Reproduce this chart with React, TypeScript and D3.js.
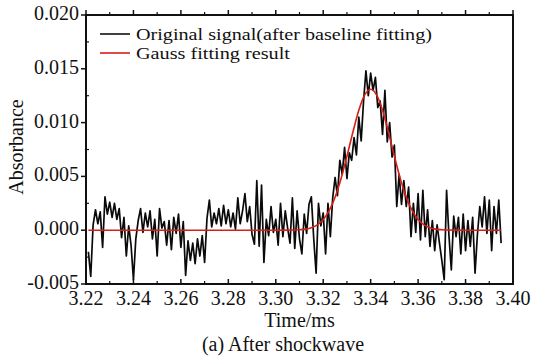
import React from "react";
import * as d3 from "d3";

// Original signal (after baseline fitting): sampled every 0.001 ms from 3.221 ms, values in 1e-3 absorbance
const signalStart = 3.221;
const signalStep = 0.001;
const signalMilli = [
  -2.0, -4.3, 0.5, 1.9, 0.6, 1.7, -1.6, 3.1, 1.5, 2.6,
  1.2, 2.5, 1.0, 2.0, -0.7, 1.2, -2.4, 0.4, -1.4, -4.6,
  -0.8, 0.9, 2.0, -0.2, 1.6, 0.3, 1.8, -0.8, 1.0, -2.4,
  2.0, 0.2, 0.8, -1.4, 0.9, -1.8, 1.2, -0.3, 1.5, -1.6,
  0.8, -4.2, -1.0, -2.8, -1.2, -3.1, -0.8, -2.4, -0.5, -3.0,
  1.1, 2.8, 0.3, 1.6, 0.6, 2.0, 0.4, 2.3, 0.6, 1.9,
  0.3, 1.6, 0.1, 3.0, 0.6, 1.8, 3.4, 0.8, 2.2, -0.4,
  -1.3, 4.6, -1.5, 4.2, -3.0, 1.0, -0.5, 2.2, -0.2, 1.0,
  -1.4, 2.5, -0.6, 1.8, 0.2, -1.2, 3.0, -1.7, 1.8, -0.8,
  -2.2, 1.5, -0.3, 2.4, 3.1, -0.8, -4.0, 2.5, 0.4, 1.6,
  -2.2, 2.5, -0.6, 3.0, 4.9, 3.2, 6.5, 5.2, 7.7, 4.8,
  7.2, 6.5, 8.6, 7.0, 10.5, 8.3, 12.0, 14.8, 12.5, 14.6,
  13.0, 14.2, 11.4, 12.0, 8.9, 13.0, 8.2, 10.0, 6.8, 7.9,
  2.2, 5.2, 2.4, 4.6, 2.2, 4.0, -0.6, 2.5, -0.2, 3.4,
  -0.9, 3.7, -0.6, 1.9, -1.5, 0.9, -1.9, 0.5, -1.2, -2.8,
  -4.6, 3.7, -0.5, -3.7, 1.3, -0.6, 1.2, -2.2, 1.5, -1.9,
  0.9, -1.5, 1.2, -4.0, -0.4, 2.2, 0.3, 3.1, -0.3, 2.8,
  -1.9, 2.2, -0.3, 2.8, -1.2,
];

// Gauss fitting result
const fitTime = [
  3.221, 3.3, 3.305, 3.31, 3.3125, 3.315, 3.3175, 3.32, 3.3225, 3.325, 3.3275,
  3.33, 3.3325, 3.335, 3.3375, 3.34, 3.3425, 3.345, 3.3475, 3.35, 3.3525,
  3.355, 3.3575, 3.36, 3.3625, 3.365, 3.3675, 3.37, 3.375, 3.38, 3.395,
];
const fitMilli = [
  0, 0, 0.005, 0.04, 0.1, 0.23, 0.5, 0.99, 1.82, 3.07, 4.78,
  6.87, 9.11, 11.15, 12.58, 13.1, 12.58, 11.15, 9.11, 6.87, 4.78,
  3.07, 1.82, 0.99, 0.5, 0.23, 0.1, 0.04, 0.005, 0, 0,
];

const xMajorTicks = [3.22, 3.24, 3.26, 3.28, 3.3, 3.32, 3.34, 3.36, 3.38, 3.4];
const xMinorTicks = [3.23, 3.25, 3.27, 3.29, 3.31, 3.33, 3.35, 3.37, 3.39];
const yMajorTicks = [-0.005, 0.0, 0.005, 0.01, 0.015, 0.02];
const yMinorTicks = [-0.0025, 0.0025, 0.0075, 0.0125, 0.0175];

const legendLabels = ["Original signal(after baseline fitting)", "Gauss fitting result"];
const xLabel = "Time/ms";
const yLabel = "Absorbance";
const caption = "(a) After shockwave";

const W = 535;
const H = 356;
const M = { left: 86, right: 513, top: 15, bottom: 284 };
const FONT = "'Liberation Serif', 'Times New Roman', serif";
const FS = 20;

export default function App() {
  const x = d3.scaleLinear().domain([3.22, 3.4]).range([M.left, M.right]);
  const y = d3.scaleLinear().domain([-0.005, 0.02]).range([M.bottom, M.top]);

  const signal = signalMilli.map((v, i) => [signalStart + i * signalStep, v / 1000] as [number, number]);
  const fit = fitTime.map((t, i) => [t, fitMilli[i] / 1000] as [number, number]);

  const line = d3
    .line<[number, number]>()
    .x((d) => x(d[0]))
    .y((d) => y(d[1]));
  const smooth = d3
    .line<[number, number]>()
    .x((d) => x(d[0]))
    .y((d) => y(d[1]))
    .curve(d3.curveMonotoneX);

  const fmtY = d3.format(".3f");
  const fmtX = d3.format(".2f");

  return (
    <svg
      width={W}
      height={H}
      style={{ position: "absolute", left: 0, top: 0, background: "#fff" }}
      fontFamily={FONT}
    >
      <rect x={0} y={0} width={W} height={H} fill="#fff" />
      {/* data */}
      <path d={line(signal) || ""} fill="none" stroke="#0a0a0a" strokeWidth={1.7} strokeLinejoin="round" />
      <path d={smooth(fit) || ""} fill="none" stroke="#d91e18" strokeWidth={1.6} />

      {/* frame */}
      <rect
        x={M.left}
        y={M.top}
        width={M.right - M.left}
        height={M.bottom - M.top}
        fill="none"
        stroke="#111"
        strokeWidth={2}
      />

      {/* bottom ticks (inward) */}
      {xMajorTicks.map((t) => (
        <line key={"xb" + t} x1={x(t)} x2={x(t)} y1={M.bottom} y2={M.bottom - 5} stroke="#111" strokeWidth={1.5} />
      ))}
      {xMinorTicks.map((t) => (
        <line key={"xbm" + t} x1={x(t)} x2={x(t)} y1={M.bottom} y2={M.bottom - 3} stroke="#111" strokeWidth={1.2} />
      ))}
      {/* top ticks (outward) */}
      {xMajorTicks.map((t) => (
        <line key={"xt" + t} x1={x(t)} x2={x(t)} y1={M.top} y2={M.top - 5} stroke="#111" strokeWidth={1.5} />
      ))}
      {xMinorTicks.map((t) => (
        <line key={"xtm" + t} x1={x(t)} x2={x(t)} y1={M.top} y2={M.top - 3} stroke="#111" strokeWidth={1.2} />
      ))}
      {/* left ticks */}
      {yMajorTicks.map((t) => (
        <line key={"yl" + t} x1={M.left} x2={M.left - 5} y1={y(t)} y2={y(t)} stroke="#111" strokeWidth={1.5} />
      ))}
      {yMinorTicks.map((t) => (
        <line key={"ylm" + t} x1={M.left} x2={M.left + 3} y1={y(t)} y2={y(t)} stroke="#111" strokeWidth={1.2} />
      ))}

      {/* tick labels */}
      {xMajorTicks.map((t) => (
        <text key={"xl" + t} x={x(t)} y={305} textAnchor="middle" fontSize={FS} fill="#111">
          {fmtX(t)}
        </text>
      ))}
      {yMajorTicks.map((t) => (
        <text key={"yll" + t} x={79} y={y(t) + 5} textAnchor="end" fontSize={FS} fill="#111">
          {t < 0 ? "-" + fmtY(-t) : fmtY(t)}
        </text>
      ))}

      {/* axis titles */}
      <text x={(M.left + M.right) / 2} y={327} textAnchor="middle" fontSize={FS} fill="#111">
        {xLabel}
      </text>
      <text transform={`translate(23, 147) rotate(-90)`} textAnchor="middle" fontSize={FS} fill="#111">
        {yLabel}
      </text>
      <text x={283} y={351} textAnchor="middle" fontSize={FS} fill="#111">
        {caption}
      </text>

      {/* legend */}
      <line x1={100} x2={130} y1={34} y2={34} stroke="#111" strokeWidth={1.6} />
      <text x={136} y={39.5} fontSize={17} fill="#111" textLength={296} lengthAdjust="spacingAndGlyphs">
        {legendLabels[0]}
      </text>
      <line x1={100} x2={130} y1={53} y2={53} stroke="#d91e18" strokeWidth={1.6} />
      <text x={136} y={59} fontSize={17} fill="#111" textLength={154} lengthAdjust="spacingAndGlyphs">
        {legendLabels[1]}
      </text>
    </svg>
  );
}
